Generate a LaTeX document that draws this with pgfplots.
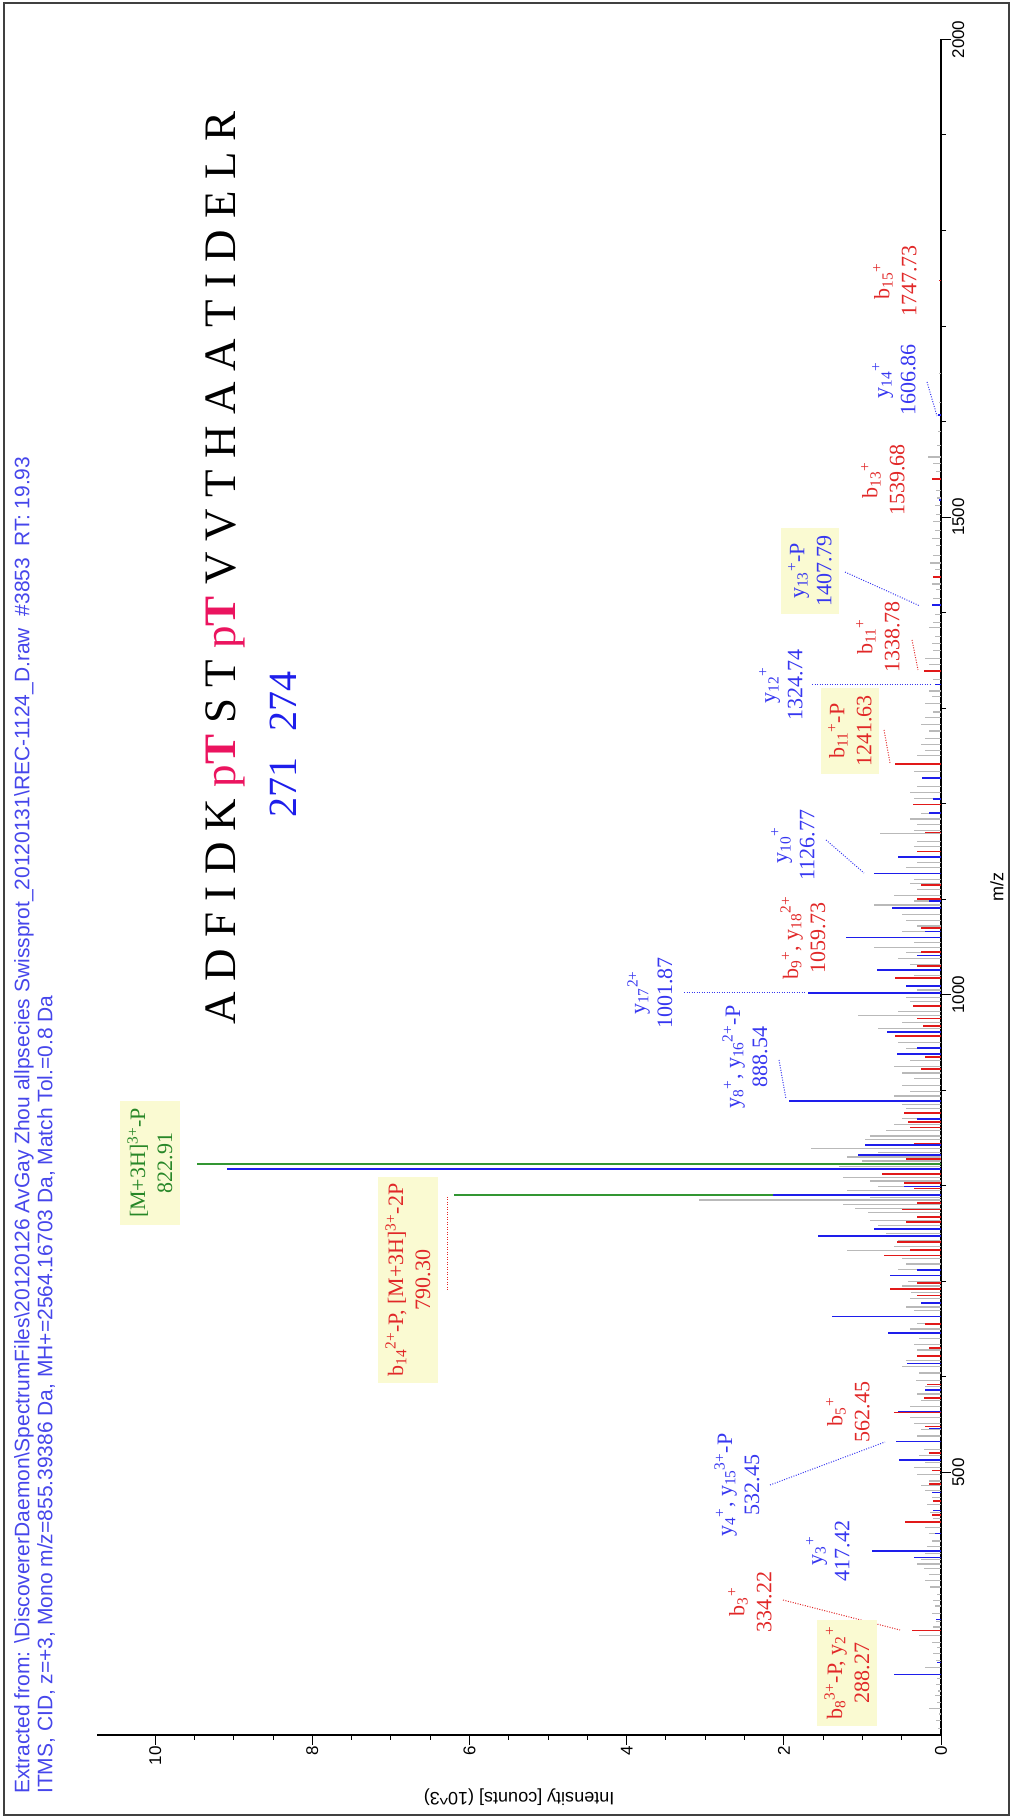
\documentclass[border=0pt]{standalone}
\usepackage{pgfplots}
\pgfplotsset{compat=1.18}
\usepackage{pgfplotstable}
\usepackage{fontspec}
\setmainfont{Liberation Serif}
\newfontfamily\arial{Liberation Sans}
\definecolor{pblue}{RGB}{30,30,235}
\definecolor{pred}{RGB}{225,25,25}
\definecolor{pgreen}{RGB}{50,150,50}
\definecolor{pgray}{RGB}{185,185,185}
\definecolor{tblue}{RGB}{55,55,240}
\definecolor{tred}{RGB}{225,40,40}
\definecolor{tgreen}{RGB}{40,135,40}
\definecolor{boxy}{RGB}{250,250,210}
\definecolor{pink}{RGB}{235,20,95}
\definecolor{titleblue}{RGB}{70,70,235}
\newcommand{\lab}{\fontsize{22}{27}\selectfont}
\newcommand{\seqfont}{\fontsize{45}{45}\selectfont}
\newsavebox\pTbox

\pgfplotstableread{
mz I
232 0.04
240 0.06
247 0.03
253 0.15
259 0.05
266 0.08
271 0.04
278 0.06
284 0.05
296 0.20
303 0.07
310 0.10
317 0.05
322 0.12
329 0.28
338 0.10
344 0.06
352 0.12
360 0.08
366 0.10
372 0.05
380 0.14
387 0.20
393 0.15
399 0.22
404 0.30
409 0.25
415 0.20
422 0.18
428 0.12
436 0.15
442 0.20
452 0.10
458 0.14
466 0.18
474 0.12
481 0.20
486 0.25
491 0.15
498 0.30
505 0.35
510 0.20
518 0.28
524 0.22
538 0.30
545 0.25
551 0.35
557 0.40
569 0.40
575 0.25
582 0.30
590 0.20
596 0.32
604 0.28
611 0.50
617 0.45
628 0.30
634 0.35
640 0.28
650 0.40
656 0.30
669 0.35
673 0.45
682 0.40
688 0.38
695 0.50
700 0.42
712 0.55
718 0.45
724 0.50
732 1.20
736 0.60
743 0.55
750 0.70
758 0.80
764 0.90
772 0.93
776 1.10
780 1.25
785 3.08
788 0.90
795 1.20
799 0.80
805 0.90
809 1.25
813 0.75
820 1.30
826 1.00
830 1.20
835 0.80
839 1.66
848 0.97
852 0.90
858 0.70
864 0.60
870 0.50
881 0.45
885 0.50
894 0.60
899 0.40
905 0.50
912 0.35
918 0.50
925 0.60
931 0.40
944 0.45
950 0.55
965 0.80
971 0.50
978 1.05
982 0.55
993 0.40
997 0.45
1005 0.30
1020 0.35
1032 0.40
1038 0.55
1044 0.45
1049 0.85
1055 0.35
1066 0.50
1072 0.30
1078 0.45
1084 0.50
1094 0.85
1098 0.35
1104 0.60
1110 0.30
1116 0.40
1121 0.35
1133 0.45
1138 0.30
1155 0.35
1160 0.30
1169 0.78
1172 0.35
1178 0.30
1184 0.40
1190 0.25
1205 0.35
1212 0.40
1218 0.30
1234 0.35
1250 0.30
1256 0.20
1262 0.25
1268 0.20
1276 0.15
1283 0.25
1290 0.20
1296 0.10
1305 0.20
1312 0.12
1318 0.15
1330 0.10
1346 0.15
1352 0.20
1360 0.10
1368 0.12
1375 0.08
1384 0.15
1390 0.10
1398 0.08
1415 0.10
1424 0.06
1430 0.12
1445 0.08
1452 0.14
1460 0.10
1470 0.07
1478 0.12
1486 0.08
1495 0.10
1503 0.06
1512 0.08
1520 0.05
1528 0.07
1548 0.06
1556 0.10
1563 0.16
1575 0.05
1590 0.04
1620 0.03
1650 0.02
}\graydata

\pgfplotstableread{
mz I
334.22 0.37
448 0.46
455 0.12
470 0.10
488 0.15
502 0.12
520 0.15
548 0.20
562.45 0.60
578 0.22
592 0.18
622 0.30
630 0.15
655 0.20
685 0.30
691.6 0.65
698 0.30
727 0.73
733 0.40
741 0.56
762 0.45
767 0.30
775 0.50
782 0.30
797 0.35
803 0.47
812 0.75
818 0.50
828 0.45
844 0.35
861 0.40
867 0.42
876 0.47
922 0.25
935 0.20
957 0.58
967 0.23
975 0.30
988 0.36
1017.6 0.58
1030 0.30
1045 0.25
1070 0.25
1100 0.30
1115 0.25
1150 0.30
1170 0.20
1199 0.36
1241.63 0.58
1338.78 0.22
1437 0.10
1539.68 0.12
1747.73 0.03
}\reddata

\pgfplotstableread{
mz I
288.27 0.60
301 0.05
346 0.06
411 0.34
417.42 0.88
436 0.08
460 0.10
479 0.12
513 0.53
532.45 0.57
546 0.15
563.5 0.55
586 0.20
614 0.43
646 0.67
663 1.39
677 0.25
706 0.65
712 0.30
747.6 1.56
755 0.85
790.30 2.14
799 0.47
817.6 9.08
832 1.05
842.6 0.97
870 0.30
888.54 1.93
938 0.56
944 0.30
961 0.69
1001.87 1.69
1009 0.45
1025.7 0.82
1041 0.30
1059.73 1.21
1066 0.20
1091 0.63
1098 0.15
1126.77 0.85
1144 0.55
1190 0.15
1205 0.10
1227 0.24
1324.74 0.08
1407.79 0.12
1518 0.03
1606.86 0.04
}\bluedata

\pgfplotstableread{
mz I
790.30 6.20
822.91 9.47
}\greendata

\begin{document}
\begin{tikzpicture}
\sbox\pTbox{\seqfont p\textbf{T}}%
\useasboundingbox (0,0) rectangle (1012pt,1818pt);
\begin{axis}[
  at={(97pt,83pt)}, anchor=south west,
  scale only axis, width=844pt, height=1695.5pt,
  xmin=-10.74, xmax=0, ymin=225, ymax=2000,
  axis x line=bottom, axis y line=right,
  axis line style={-, black, line width=1.3pt},
  xtick={-10,-8,-6,-4,-2,0}, xticklabels={10,8,6,4,2,0},
  ytick={500,1000,1500,2000}, yticklabels={500,1000,1500,2000},
  minor x tick num=3, minor y tick num=4,
  tick align=outside,
  major tick length=10pt, minor tick length=5pt,
  every tick/.style={black, line width=1pt},
  /pgf/number format/assume math mode=true,
  tick label style={font=\arial\fontsize{17}{17}\selectfont, inner sep=1pt},
  xticklabel style={rotate=90, anchor=east},
  yticklabel style={rotate=90, anchor=north},
  xlabel={Intensity [counts] (10\textasciicircum 3)},
  ylabel={m/z},
  every axis x label/.style={at={(axis description cs:0.5,0)}, yshift=-62pt, rotate=180, anchor=center, font=\arial\fontsize{18}{18}\selectfont},
  every axis y label/.style={at={(axis description cs:1,0.5)}, xshift=56pt, rotate=90, anchor=center, font=\arial\fontsize{18}{18}\selectfont},
  clip=false,
]
\addplot[xcomb, pgray, line width=1.2pt] table[x expr=-\thisrow{I}, y=mz]{\graydata};
\addplot[xcomb, pred, line width=1.6pt] table[x expr=-\thisrow{I}, y=mz]{\reddata};
\addplot[xcomb, pgreen, line width=1.8pt] table[x expr=-\thisrow{I}, y=mz]{\greendata};
\addplot[xcomb, pblue, line width=1.6pt] table[x expr=-\thisrow{I}, y=mz]{\bluedata};
\end{axis}
\begin{scope}[shift={(0,1818pt)}, yscale=-1]
\draw[line width=1.5pt, black!75] (4pt,3pt) rectangle (1009pt,1815pt);
% title
\node[rotate=90, anchor=west, inner sep=0pt, text=titleblue, font=\arial\fontsize{21}{21}\selectfont] at (24pt,1794pt) {Extracted from: \textbackslash DiscovererDaemon\textbackslash SpectrumFiles\textbackslash 20120126 AvGay Zhou allpsecies Swissprot\_20120131\textbackslash REC-1124\_D.raw\ \ \#3853\ \ RT: 19.93};
\node[rotate=90, anchor=west, inner sep=0pt, text=titleblue, font=\arial\fontsize{21}{21}\selectfont] at (46pt,1794pt) {ITMS, CID, z=+3, Mono m/z=855.39386 Da, MH+=2564.16703 Da, Match Tol.=0.8 Da};
% sequence
\node[rotate=90, anchor=base west, inner sep=0pt, font=\seqfont] at (235pt,1025pt) {A D F I D K \textcolor{pink}{p\textbf{T}} S T \textcolor{pink}{p\textbf{T}} V V T H A A T I D E L R};
\node[rotate=90, anchor=base west, inner sep=0pt, text=pblue, font=\seqfont] at (296pt,1025pt) {\hphantom{A D F I D K }\makebox[\wd\pTbox]{\fontsize{40}{40}\selectfont 271}\hphantom{ S T }\makebox[\wd\pTbox]{\fontsize{40}{40}\selectfont 274}};
% labels
\tikzset{lbl/.style={rotate=90, align=center, font=\lab, inner sep=2pt},
         bx/.style={lbl, fill=boxy, inner sep=7pt},
         ld/.style={line width=1pt, dash pattern=on 1pt off 1.5pt}}
\node[bx, text=tgreen] at (150pt,1163pt) {[M+3H]\textsuperscript{3+}-P\\822.91};
\node[bx, text=tred] at (408pt,1280pt) {b\textsubscript{14}\textsuperscript{2+}-P, [M+3H]\textsuperscript{3+}-2P\\790.30};
\draw[ld, tred] (447pt,1197pt) -- (447pt,1290pt);
\node[lbl, text=tblue] at (650pt,993pt) {y\textsubscript{17}\textsuperscript{2+}\\1001.87};
\draw[ld, tblue] (684pt,993pt) -- (805pt,993pt);
\node[lbl, text=tblue] at (745pt,1057pt) {y\textsubscript{8}\textsuperscript{+}, y\textsubscript{16}\textsuperscript{2+}-P\\888.54};
\draw[ld, tblue] (779pt,1060pt) -- (786pt,1099pt);
\node[lbl, text=tred] at (803pt,938pt) {b\textsubscript{9}\textsuperscript{+}, y\textsubscript{18}\textsuperscript{2+}\\1059.73};
\node[lbl, text=tblue] at (793pt,845pt) {y\textsubscript{10}\textsuperscript{+}\\1126.77};
\draw[ld, tblue] (826pt,840pt) -- (864pt,873pt);
\node[bx, text=tred] at (850pt,731pt) {b\textsubscript{11}\textsuperscript{+}-P\\1241.63};
\draw[ld, tred] (884pt,730pt) -- (890pt,763pt);
\node[lbl, text=tblue] at (781pt,685pt) {y\textsubscript{12}\textsuperscript{+}\\1324.74};
\draw[ld, tblue] (812pt,685pt) -- (932pt,685pt);
\node[lbl, text=tred] at (878pt,637pt) {b\textsubscript{11}\textsuperscript{+}\\1338.78};
\draw[ld, tred] (912pt,640pt) -- (918pt,670pt);
\node[bx, text=tblue] at (810pt,571pt) {y\textsubscript{13}\textsuperscript{+}-P\\1407.79};
\draw[ld, tblue] (845pt,572pt) -- (920pt,606pt);
\node[lbl, text=tred] at (883pt,480pt) {b\textsubscript{13}\textsuperscript{+}\\1539.68};
\node[lbl, text=tblue] at (894pt,380pt) {y\textsubscript{14}\textsuperscript{+}\\1606.86};
\draw[ld, tblue] (927pt,382pt) -- (937pt,416pt);
\node[lbl, text=tred] at (895pt,281pt) {b\textsubscript{15}\textsuperscript{+}\\1747.73};
\node[lbl, text=tblue] at (737pt,1485pt) {y\textsubscript{4}\textsuperscript{+}, y\textsubscript{15}\textsuperscript{3+}-P\\532.45};
\draw[ld, tblue] (770pt,1485pt) -- (885pt,1442pt);
\node[lbl, text=tred] at (848pt,1412pt) {b\textsubscript{5}\textsuperscript{+}\\562.45};
\node[lbl, text=tblue] at (828pt,1551pt) {y\textsubscript{3}\textsuperscript{+}\\417.42};
\node[lbl, text=tred] at (750pt,1602pt) {b\textsubscript{3}\textsuperscript{+}\\334.22};
\draw[ld, tred] (783pt,1600pt) -- (900pt,1630pt);
\node[bx, text=tred] at (847pt,1673pt) {b\textsubscript{8}\textsuperscript{3+}-P, y\textsubscript{2}\textsuperscript{+}\\288.27};
\end{scope}
\end{tikzpicture}
\end{document}
